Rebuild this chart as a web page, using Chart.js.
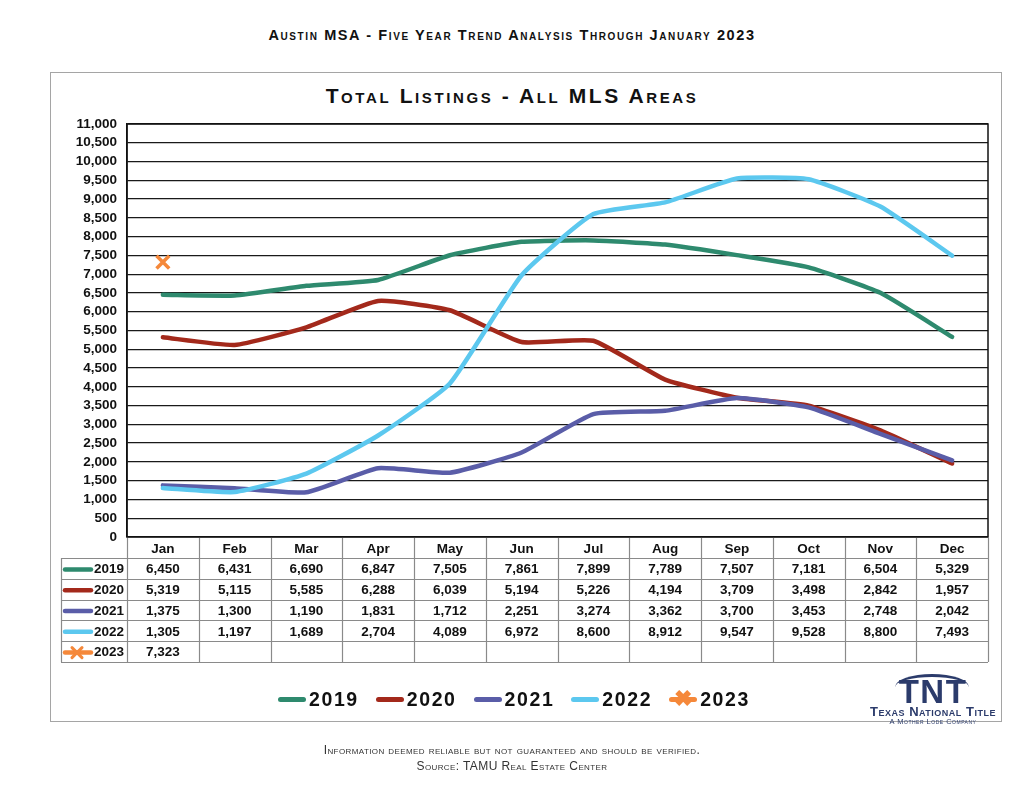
<!DOCTYPE html>
<html>
<head>
<meta charset="utf-8">
<title>Total Listings - All MLS Areas</title>
<script src="https://cdn.jsdelivr.net/npm/chart.js@4.4.0/dist/chart.umd.min.js"></script>
<style>
  html, body { margin: 0; padding: 0; background: #fff; }
  body { width: 1024px; height: 795px; position: relative; overflow: hidden; font-family: "Liberation Sans", Arial, sans-serif; color: #111; }
  #chart { position: absolute; left: 0; top: 0; }
  #frame { position: absolute; left: 50px; top: 72px; width: 950px; height: 648px; border: 1.5px solid #a5a5a5; }
  .page-title { position: absolute; top: 27px; left: 0; width: 1024px; text-align: center; font-weight: bold; font-variant: small-caps; font-size: 14.5px; letter-spacing: 1.6px; }
  .chart-title { position: absolute; top: 84px; left: 0; width: 1024px; text-align: center; font-weight: bold; font-variant: small-caps; font-size: 21px; letter-spacing: 2.6px; }
  #legend { position: absolute; top: 688px; left: 278px; display: flex; align-items: center; font-weight: bold; font-size: 19.5px; letter-spacing: 1.6px; }
  #legend .item { display: flex; align-items: center; margin-right: 17px; }
  #legend .swatch { position: relative; width: 28px; height: 5px; border-radius: 3px; margin-right: 3px; }
  #legend .cross { position: absolute; left: 5px; top: -9px; font-size: 22px; line-height: 22px; font-weight: bold; letter-spacing: 0; }
  .logo { position: absolute; left: 862px; top: 672px; width: 142px; text-align: center; color: #2b3b6b; }
  .logo .arc { position: absolute; left: 33px; top: 2px; width: 74px; height: 10px; border-top: 3px solid #2b3b6b; border-radius: 50% 50% 0 0 / 100% 100% 0 0; }
  .logo .tnt { font-weight: bold; font-size: 33px; line-height: 28px; letter-spacing: 1.5px; padding-top: 6px; }
  .logo .name { font-variant: small-caps; font-size: 13px; font-weight: bold; line-height: 12px; letter-spacing: 0.5px; }
  .logo .sub { font-variant: small-caps; font-size: 7.5px; line-height: 8px; letter-spacing: 0.5px; }
  .footer { position: absolute; left: 0; width: 1024px; text-align: center; font-variant: small-caps; font-size: 12px; color: #333; letter-spacing: 0.4px; }
</style>
</head>
<body>
<div id="frame"></div>
<div class="page-title">Austin MSA - Five Year Trend Analysis Through January 2023</div>
<div class="chart-title">Total Listings - All MLS Areas</div>
<canvas id="chart" width="1024" height="795"></canvas>
<div id="legend"></div>
<div class="logo">
  <div class="arc"></div>
  <div class="tnt">TNT</div>
  <div class="name">Texas National Title</div>
  <div class="sub">A Mother Lode Company</div>
</div>
<div class="footer" style="top:743px;">Information deemed reliable but not guaranteed and should be verified.</div>
<div class="footer" style="top:759px;">Source: TAMU Real Estate Center</div>
<script>
// Data
const months = ["Jan", "Feb", "Mar", "Apr", "May", "Jun", "Jul", "Aug", "Sep", "Oct", "Nov", "Dec"];
const years = ["2019", "2020", "2021", "2022", "2023"];
const listings2019 = [6450, 6431, 6690, 6847, 7505, 7861, 7899, 7789, 7507, 7181, 6504, 5329];
const listings2020 = [5319, 5115, 5585, 6288, 6039, 5194, 5226, 4194, 3709, 3498, 2842, 1957];
const listings2021 = [1375, 1300, 1190, 1831, 1712, 2251, 3274, 3362, 3700, 3453, 2748, 2042];
const listings2022 = [1305, 1197, 1689, 2704, 4089, 6972, 8600, 8912, 9547, 9528, 8800, 7493];
const listings2023 = [7323, null, null, null, null, null, null, null, null, null, null, null];
const yMin = 0;
const yMax = 11000;
const yStep = 500;

const colors = ["#2e8a6e", "#a3291b", "#5a5da8", "#5cc8ef", "#f5883a"];
const seriesValues = [listings2019, listings2020, listings2021, listings2022, listings2023];

const FONT = '"Liberation Sans", Arial, sans-serif';
const fmt = v => v.toLocaleString("en-US");

const datasets = years.map((yr, i) => {
  const isMarker = yr === "2023";
  return {
    label: yr,
    data: seriesValues[i],
    borderColor: colors[i],
    backgroundColor: colors[i],
    borderWidth: isMarker ? 3.5 : 4.5,
    borderCapStyle: "round",
    borderJoinStyle: "round",
    tension: 0.15,
    fill: false,
    pointRadius: isMarker ? 9 : 0,
    pointStyle: isMarker ? "crossRot" : "circle",
    pointBorderWidth: 3.5,
    showLine: !isMarker,
    order: years.length - i
  };
});

// plot frame + data table under the plot
const tablePlugin = {
  id: "dataTable",
  beforeDatasetsDraw(chart) {
    const { ctx, chartArea: a } = chart;
    ctx.save();
    ctx.strokeStyle = "#111";
    ctx.lineWidth = 1.5;
    ctx.strokeRect(a.left, a.top, a.right - a.left, a.bottom - a.top);
    ctx.restore();
  },
  afterDraw(chart) {
    const { ctx, chartArea: a } = chart;
    const xs = chart.scales.x;
    const colW = (a.right - a.left) / months.length;
    const headTop = a.bottom;
    const rowTop = a.bottom + 21;
    const rowH = 20.8;
    const nRows = years.length;
    const bottom = rowTop + nRows * rowH;
    const keyLeft = 61;

    ctx.save();
    ctx.strokeStyle = "#8a8a8a";
    ctx.lineWidth = 1.2;
    for (let r = 0; r <= nRows; r++) {
      const y = Math.round(rowTop + r * rowH) + 0.5;
      ctx.beginPath(); ctx.moveTo(keyLeft, y); ctx.lineTo(a.right, y); ctx.stroke();
    }
    for (let i = 0; i <= months.length; i++) {
      const x = Math.round(a.left + i * colW) + 0.5;
      ctx.beginPath(); ctx.moveTo(x, headTop + 1); ctx.lineTo(x, bottom); ctx.stroke();
    }
    ctx.beginPath(); ctx.moveTo(keyLeft + 0.5, rowTop); ctx.lineTo(keyLeft + 0.5, bottom); ctx.stroke();

    // values
    ctx.fillStyle = "#111";
    ctx.font = "bold 13.5px " + FONT;
    ctx.textAlign = "center";
    ctx.textBaseline = "middle";
    seriesValues.forEach((vals, r) => {
      const cy = rowTop + r * rowH + rowH / 2 + 1;
      vals.forEach((v, i) => {
        if (v == null) return;
        ctx.fillText(fmt(v), xs.getPixelForValue(i), cy);
      });
    });

    // row keys
    years.forEach((yr, r) => {
      const cy = rowTop + r * rowH + rowH / 2 + 1;
      ctx.strokeStyle = colors[r];
      ctx.lineWidth = 4.5;
      ctx.lineCap = "round";
      ctx.beginPath(); ctx.moveTo(65, cy); ctx.lineTo(91, cy); ctx.stroke();
      if (yr === "2023") {
        ctx.lineWidth = 3;
        ctx.beginPath();
        ctx.moveTo(72, cy - 5); ctx.lineTo(82, cy + 5);
        ctx.moveTo(82, cy - 5); ctx.lineTo(72, cy + 5);
        ctx.stroke();
      }
      ctx.fillStyle = "#111";
      ctx.textAlign = "right";
      ctx.fillText(yr, 124, cy);
    });
    ctx.restore();
  }
};

new Chart(document.getElementById("chart"), {
  type: "line",
  data: { labels: months, datasets },
  options: {
    responsive: false,
    animation: false,
    layout: { padding: { left: 50, top: 124, right: 36, bottom: 237 } },
    plugins: {
      legend: { display: false },
      title: { display: false },
      tooltip: { enabled: false }
    },
    scales: {
      x: {
        offset: true,
        grid: { display: false, drawTicks: false },
        border: { display: false },
        ticks: { color: "#111", padding: 4, font: { family: FONT, size: 13.5, weight: "bold" } },
        afterFit: s => { s.height = 21; }
      },
      y: {
        min: yMin,
        max: yMax,
        grid: { color: "#1a1a1a", lineWidth: 1.3, drawTicks: false },
        border: { color: "#111", width: 1.5 },
        ticks: {
          stepSize: yStep,
          autoSkip: false,
          padding: 10,
          color: "#111",
          font: { family: FONT, size: 13.5, weight: "bold" },
          callback: v => fmt(v)
        },
        afterFit: s => { s.width = 77; }
      }
    }
  },
  plugins: [tablePlugin]
});

// legend
const legend = document.getElementById("legend");
years.forEach((yr, i) => {
  const item = document.createElement("div");
  item.className = "item";
  const sw = document.createElement("span");
  sw.className = "swatch";
  sw.style.background = colors[i];
  if (yr === "2023") {
    const c = document.createElement("span");
    c.className = "cross";
    c.style.color = colors[i];
    c.textContent = "\u2716";
    sw.appendChild(c);
  }
  const t = document.createElement("span");
  t.textContent = yr;
  item.appendChild(sw);
  item.appendChild(t);
  legend.appendChild(item);
});
</script>
</body>
</html>
